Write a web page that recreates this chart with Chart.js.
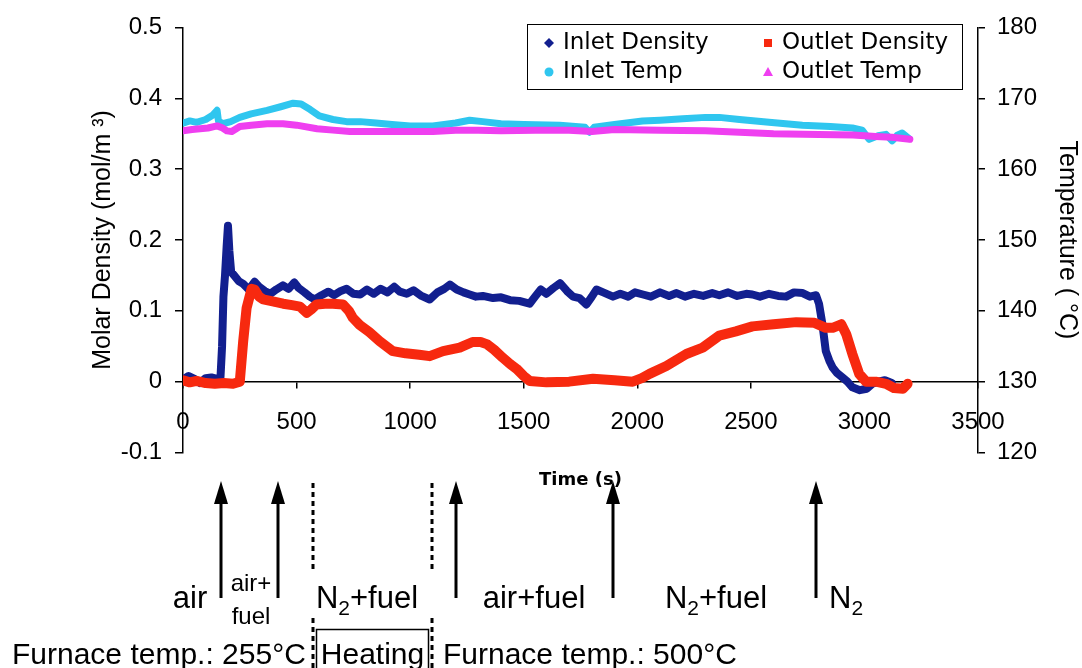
<!DOCTYPE html>
<html>
<head>
<meta charset="utf-8">
<title>Molar density / temperature vs time</title>
<script src="https://cdn.jsdelivr.net/npm/chart.js@4.4.1/dist/chart.umd.min.js"></script>
<style>
  html, body { margin: 0; padding: 0; background: #fff; }
  #wrap { position: relative; width: 1082px; height: 668px; }
</style>
</head>
<body>
<div id="wrap"><canvas id="grafico" width="1082" height="668"></canvas></div>
<script>
// valores: [tiempo (s), valor]
const inletDensity = [
  [0,0.003],[25,0.008],[50,0.004],[75,-0.002],[100,0.005],[125,0.006],[150,0.004],[165,0.006],
  [172,0.05],[178,0.12],[185,0.15],[192,0.19],[198,0.22],[204,0.185],[212,0.155],[225,0.15],
  [245,0.142],[265,0.138],[290,0.13],[315,0.141],[335,0.134],[360,0.128],[385,0.124],[410,0.13],
  [440,0.136],[465,0.131],[490,0.14],[510,0.132],[535,0.126],[558,0.12],[580,0.116],[610,0.122],
  [640,0.127],[665,0.122],[695,0.128],[720,0.131],[750,0.124],[780,0.123],[810,0.13],[840,0.124],
  [870,0.131],[900,0.126],[930,0.134],[955,0.127],[985,0.124],[1015,0.129],[1050,0.121],[1086,0.116],
  [1120,0.126],[1150,0.131],[1175,0.137],[1205,0.13],[1235,0.126],[1262,0.123],[1290,0.12],[1320,0.121],
  [1365,0.118],[1400,0.119],[1440,0.115],[1480,0.114],[1526,0.11],[1550,0.12],[1575,0.13],[1600,0.124],
  [1630,0.132],[1660,0.139],[1690,0.128],[1717,0.12],[1745,0.118],[1776,0.109],[1800,0.12],[1820,0.13],
  [1850,0.126],[1893,0.12],[1925,0.124],[1960,0.12],[1990,0.126],[2025,0.123],[2060,0.12],[2100,0.126],
  [2140,0.121],[2173,0.125],[2210,0.12],[2250,0.124],[2290,0.121],[2330,0.125],[2361,0.122],[2400,0.126],
  [2440,0.121],[2480,0.124],[2507,0.123],[2540,0.12],[2580,0.124],[2620,0.121],[2655,0.12],[2690,0.126],
  [2728,0.125],[2760,0.12],[2787,0.122],[2800,0.11],[2815,0.081],[2830,0.043],[2845,0.03],[2860,0.02],
  [2880,0.012],[2903,0.006],[2925,0.0],[2947,-0.008],[2980,-0.012],[3010,-0.01],[3035,-0.003],[3060,0.0],
  [3090,0.002],[3120,-0.002]
];
const outletDensity = [
  [0,0.002],[30,-0.001],[60,0.001],[100,-0.002],[140,-0.003],[180,-0.002],[220,-0.003],[250,0.0],
  [265,0.057],[280,0.104],[302,0.131],[315,0.13],[335,0.12],[353,0.116],[400,0.113],[441,0.11],
  [480,0.108],[515,0.106],[545,0.097],[565,0.102],[588,0.109],[625,0.11],[660,0.11],[704,0.109],
  [730,0.1],[748,0.09],[778,0.08],[820,0.07],[866,0.057],[924,0.043],[980,0.04],[1040,0.038],
  [1086,0.036],[1145,0.043],[1218,0.048],[1275,0.056],[1310,0.056],[1337,0.053],[1370,0.045],[1407,0.034],
  [1440,0.025],[1469,0.018],[1500,0.008],[1526,0.001],[1600,-0.001],[1700,0.0],[1805,0.004],[1900,0.002],
  [1980,0.0],[2020,0.005],[2054,0.011],[2128,0.022],[2216,0.039],[2288,0.048],[2361,0.065],[2434,0.071],
  [2507,0.078],[2600,0.081],[2700,0.084],[2780,0.083],[2830,0.076],[2860,0.076],[2898,0.081],[2920,0.067],
  [2947,0.039],[2977,0.011],[3007,0.0],[3050,0.0],[3095,-0.003],[3130,-0.009],[3170,-0.01],[3190,-0.003]
];
const inletTemp = [
  [0,166.5],[30,166.8],[60,166.6],[100,167.0],[130,167.6],[150,168.3],[156,166.8],[175,166.4],
  [210,166.7],[250,167.3],[300,167.8],[370,168.3],[430,168.8],[485,169.3],[520,169.2],[560,168.4],
  [600,167.5],[660,167.0],[720,166.7],[780,166.7],[850,166.5],[920,166.3],[1000,166.1],[1100,166.1],
  [1200,166.5],[1262,166.9],[1320,166.7],[1400,166.4],[1500,166.3],[1658,166.2],[1770,165.9],[1790,165.2],
  [1810,165.9],[1900,166.3],[2023,166.8],[2100,166.9],[2200,167.1],[2300,167.3],[2361,167.3],[2450,167.0],
  [2580,166.6],[2727,166.2],[2850,166.0],[2947,165.8],[2990,165.5],[3021,164.2],[3060,164.7],[3095,164.9],
  [3122,164.0],[3145,164.8],[3166,165.1],[3197,164.3]
];
const outletTemp = [
  [0,165.4],[40,165.6],[75,165.7],[110,165.8],[150,166.1],[175,165.8],[193,165.4],[215,165.3],
  [250,166.0],[300,166.2],[370,166.4],[440,166.4],[500,166.2],[590,165.7],[660,165.5],[735,165.3],
  [850,165.3],[1000,165.3],[1100,165.3],[1200,165.5],[1300,165.5],[1400,165.4],[1550,165.5],[1700,165.5],
  [1800,165.3],[1900,165.6],[2100,165.5],[2300,165.4],[2450,165.2],[2600,165.0],[2800,164.9],[2950,164.8],
  [3050,164.6],[3120,164.5],[3200,164.2]
];

const timeTicks = [0, 500, 1000, 1500, 2000, 2500, 3000, 3500];
const densityTicks = [-0.1, 0, 0.1, 0.2, 0.3, 0.4, 0.5];
const tempTicks = [120, 130, 140, 150, 160, 170, 180];

// cambios de gas (flechas) y periodo de calentamiento (lineas punteadas), en segundos
const arrowTimes = [167, 418, 1202, 1893, 2787];
const heatingTimes = [572, 1096];

const ARIAL = "'Liberation Sans', Arial, sans-serif";
const VERDANA = "'DejaVu Sans', Verdana, sans-serif";

function toXY(pares) {
  return pares.map(p => ({ x: p[0], y: p[1] }));
}

function serie(label, pares, color, eje, orden, marcador, grosor) {
  return {
    label: label,
    data: toXY(pares),
    yAxisID: eje,
    order: orden,
    borderColor: color,
    backgroundColor: color,
    borderWidth: grosor,
    pointRadius: 0,
    pointStyle: marcador,
    tension: 0,
    fill: false,
    borderJoinStyle: 'round',
    borderCapStyle: 'round'
  };
}

// texto con subindice: partes = [[texto, esSub], ...]
function textoSub(ctx, partes, x, y, size, align) {
  const sub = Math.round(size * 0.68);
  let ancho = 0;
  partes.forEach(p => {
    ctx.font = (p[1] ? sub : size) + 'px ' + ARIAL;
    ancho += ctx.measureText(p[0]).width;
  });
  let cx = align === 'center' ? x - ancho / 2 : x;
  ctx.textAlign = 'left';
  ctx.textBaseline = 'alphabetic';
  partes.forEach(p => {
    ctx.font = (p[1] ? sub : size) + 'px ' + ARIAL;
    ctx.fillText(p[0], cx, p[1] ? y + size * 0.22 : y);
    cx += ctx.measureText(p[0]).width;
  });
}

function marcador(ctx, tipo, x, y, color) {
  ctx.fillStyle = color;
  ctx.beginPath();
  if (tipo === 'rectRot') {
    ctx.moveTo(x, y - 5); ctx.lineTo(x + 5, y); ctx.lineTo(x, y + 5); ctx.lineTo(x - 5, y);
  } else if (tipo === 'rect') {
    ctx.rect(x - 4, y - 4, 8, 8);
  } else if (tipo === 'circle') {
    ctx.arc(x, y, 4.5, 0, Math.PI * 2);
  } else {
    ctx.moveTo(x, y - 5); ctx.lineTo(x + 5, y + 4); ctx.lineTo(x - 5, y + 4);
  }
  ctx.closePath();
  ctx.fill();
}

const anotaciones = {
  id: 'anotaciones',
  afterDraw(chart) {
    const ctx = chart.ctx;
    const sx = chart.scales.x;
    ctx.save();

    // leyenda con recuadro dentro del area
    ctx.strokeStyle = '#000';
    ctx.lineWidth = 1;
    ctx.strokeRect(527.5, 24.5, 435, 65);
    const colX = [549, 768];
    const filaY = [43, 72];
    ctx.font = '23px ' + VERDANA;
    ctx.textBaseline = 'middle';
    ctx.textAlign = 'left';
    chart.data.datasets.forEach((ds, i) => {
      const cx = colX[i % 2];
      const cy = filaY[Math.floor(i / 2)];
      marcador(ctx, ds.pointStyle, cx, cy, ds.borderColor);
      ctx.fillStyle = '#000';
      ctx.fillText(ds.label, cx + 14, cy);
    });

    // flechas
    ctx.fillStyle = '#000';
    ctx.strokeStyle = '#000';
    arrowTimes.forEach(t => {
      const px = Math.round(sx.getPixelForValue(t));
      ctx.lineWidth = 3;
      ctx.beginPath();
      ctx.moveTo(px, 598);
      ctx.lineTo(px, 500);
      ctx.stroke();
      ctx.beginPath();
      ctx.moveTo(px, 481);
      ctx.lineTo(px - 7, 504);
      ctx.lineTo(px + 7, 504);
      ctx.closePath();
      ctx.fill();
    });

    // lineas punteadas del calentamiento
    ctx.setLineDash([5, 4]);
    ctx.lineWidth = 3;
    const hx = heatingTimes.map(t => Math.round(sx.getPixelForValue(t)));
    hx.forEach(px => {
      ctx.beginPath();
      ctx.moveTo(px, 483); ctx.lineTo(px, 573);
      ctx.moveTo(px, 618); ctx.lineTo(px, 668);
      ctx.stroke();
    });
    ctx.setLineDash([]);

    // recuadro "Heating"
    ctx.lineWidth = 1.5;
    ctx.strokeRect(hx[0] + 3.5, 629.5, hx[1] - hx[0] - 7, 45);

    // etiquetas de gas
    ctx.fillStyle = '#000';
    textoSub(ctx, [['air', false]], 190, 608, 31, 'center');
    textoSub(ctx, [['air+', false]], 251, 591, 24, 'center');
    textoSub(ctx, [['fuel', false]], 251, 624, 24, 'center');
    textoSub(ctx, [['N', false], ['2', true], ['+fuel', false]], 367, 608, 31, 'center');
    textoSub(ctx, [['air+fuel', false]], 534, 608, 31, 'center');
    textoSub(ctx, [['N', false], ['2', true], ['+fuel', false]], 716, 608, 31, 'center');
    textoSub(ctx, [['N', false], ['2', true]], 829, 608, 31, 'left');

    // temperatura del horno
    textoSub(ctx, [['Furnace temp.: 255°C', false]], 12, 664, 30, 'left');
    textoSub(ctx, [['Heating', false]], (hx[0] + hx[1]) / 2, 664, 30, 'center');
    textoSub(ctx, [['Furnace temp.: 500°C', false]], 443, 664, 30, 'left');

    ctx.restore();
  }
};

const ctx = document.getElementById('grafico').getContext('2d');
new Chart(ctx, {
  type: 'line',
  data: {
    datasets: [
      serie('Inlet Density', inletDensity, '#121f8f', 'y', 4, 'rectRot', 8),
      serie('Outlet Density', outletDensity, '#f7290f', 'y', 3, 'rect', 10),
      serie('Inlet Temp', inletTemp, '#2fc6ef', 'y2', 2, 'circle', 7),
      serie('Outlet Temp', outletTemp, '#ef3ff0', 'y2', 1, 'triangle', 7)
    ]
  },
  options: {
    responsive: false,
    animation: false,
    layout: { padding: { left: 85, right: 0, top: 23.5, bottom: 215.5 } },
    plugins: { legend: { display: false }, tooltip: { enabled: false } },
    scales: {
      x: {
        type: 'linear',
        axis: 'x',
        position: { y: 0 },
        min: 0,
        max: 3500,
        afterBuildTicks: s => { s.ticks = timeTicks.map(v => ({ value: v })); },
        grid: { drawOnChartArea: false, drawTicks: true, tickLength: 6, color: '#000', lineWidth: 1.5 },
        border: { color: '#000', width: 1.5 },
        ticks: { color: '#000', font: { family: ARIAL, size: 24 }, padding: 20, maxRotation: 0, autoSkip: false, callback: v => String(v) },
        title: { display: true, text: 'Time (s)', color: '#000', font: { family: VERDANA, size: 18, weight: 'bold' }, padding: { top: 13, bottom: 0 } }
      },
      y: {
        type: 'linear',
        position: 'left',
        min: -0.1,
        max: 0.5,
        afterBuildTicks: s => { s.ticks = densityTicks.map(v => ({ value: v })); },
        afterFit: s => { s.width = 98; },
        grid: { drawOnChartArea: false, drawTicks: true, tickLength: 8, color: '#000', lineWidth: 1.5 },
        border: { color: '#000', width: 1.5 },
        ticks: { color: '#000', font: { family: ARIAL, size: 24 }, padding: 13, callback: v => String(v) },
        title: { display: true, text: 'Molar Density (mol/m ³)', color: '#000', font: { family: ARIAL, size: 25 }, padding: { top: 3, bottom: 3 } }
      },
      y2: {
        type: 'linear',
        position: 'right',
        min: 120,
        max: 180,
        afterBuildTicks: s => { s.ticks = tempTicks.map(v => ({ value: v })); },
        afterFit: s => { s.width = 104; },
        grid: { drawOnChartArea: false, drawTicks: true, tickLength: 7, color: '#000', lineWidth: 1.5 },
        border: { color: '#000', width: 1.5 },
        ticks: { color: '#000', font: { family: ARIAL, size: 24 }, padding: 12, callback: v => String(v) },
        title: { display: true, text: 'Temperature ( °C)', color: '#000', font: { family: ARIAL, size: 25 }, padding: { top: 0, bottom: 0 } }
      }
    }
  },
  plugins: [anotaciones]
});
</script>
</body>
</html>
